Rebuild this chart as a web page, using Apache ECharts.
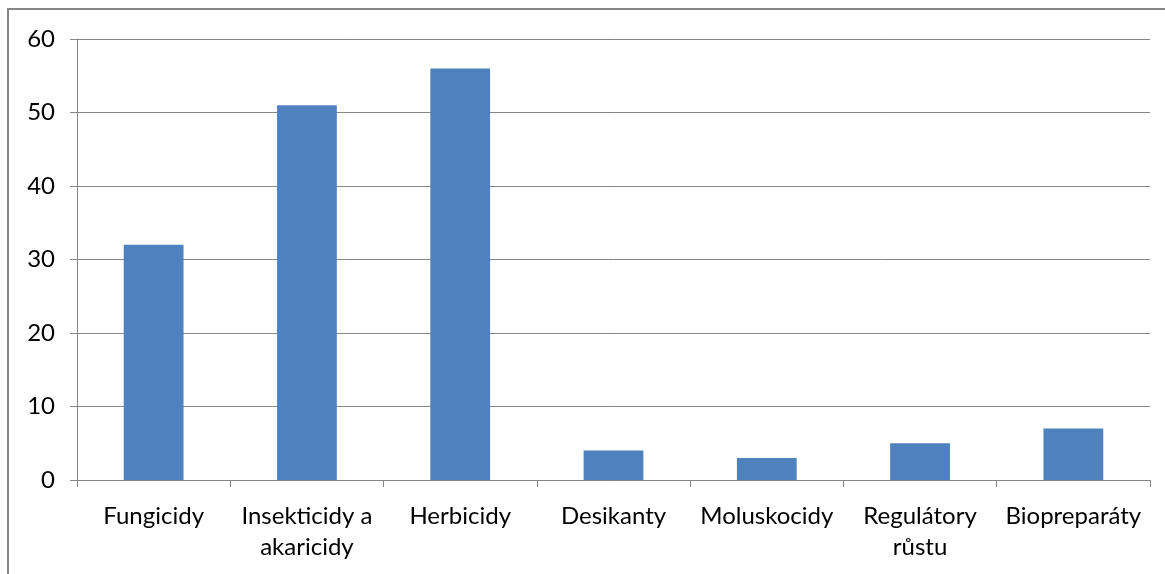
<!DOCTYPE html>
<html>
<head>
<meta charset="utf-8">
<script src="https://cdn.jsdelivr.net/npm/echarts@6/dist/echarts.min.js"></script>
<style>
    html, body { margin: 0; padding: 0; background: #fff; }
    #chart { width: 1165px; height: 574px; }
    #frame {
        position: absolute; left: 7px; top: 8px; width: 1200px; height: 600px;
        border-left: 2px solid #868686; border-top: 2px solid #868686;
        pointer-events: none;
    }
</style>
</head>
<body>
<div id="chart"></div>
<div id="frame"></div>
<script>
// kategorie přípravků
var categories = ["Fungicidy", "Insekticidy a\nakaricidy", "Herbicidy", "Desikanty", "Moluskocidy", "Regulátory\nrůstu", "Biopreparáty"];
// počty přípravků
var counts = [32, 51, 56, 4, 3, 5, 7];
// popisky osy y
var yTicks = [0, 10, 20, 30, 40, 50, 60];

var dom = echarts.init(document.getElementById("chart"));
var option = {
    animation: false,
    grid: {
        left: 77,
        right: 15,
        top: 39,
        bottom: 94
    },
    xAxis: {
        type: "category",
        data: categories,
        axisLine: { lineStyle: { color: "#868686", width: 1 } },
        axisTick: { show: true, length: 7, lineStyle: { color: "#868686" } },
        axisLabel: {
            color: "#000",
            fontFamily: "Lato",
            fontSize: 24,
            lineHeight: 31,
            margin: 21,
            interval: 0
        }
    },
    yAxis: {
        type: "value",
        min: yTicks[0],
        max: yTicks[yTicks.length - 1],
        interval: 10,
        axisLine: { show: true, lineStyle: { color: "#868686", width: 1 } },
        axisTick: { show: true, length: 7, lineStyle: { color: "#868686" } },
        splitLine: { lineStyle: { color: "#868686", width: 1 } },
        axisLabel: {
            color: "#000",
            fontFamily: "Lato",
            fontSize: 24,
            margin: 22
        }
    },
    series: [{
        type: "bar",
        data: counts,
        barCategoryGap: "61%",
        itemStyle: { color: "#4f81bd" }
    }]
};
dom.setOption(option);
</script>
</body>
</html>
